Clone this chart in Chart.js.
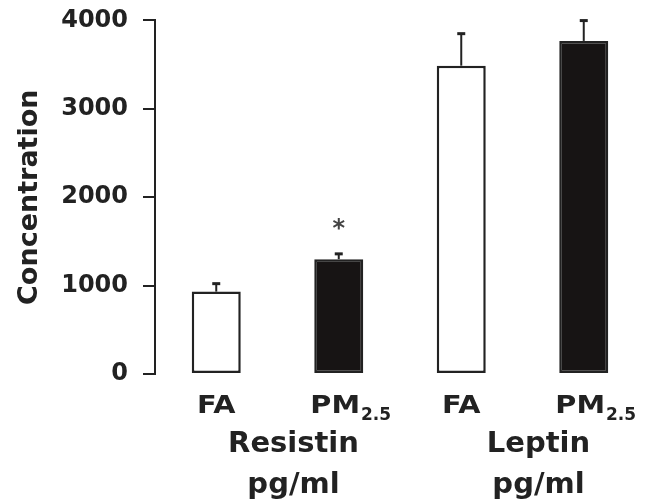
<!DOCTYPE html>
<html>
<head>
<meta charset="utf-8">
<script src="https://cdn.jsdelivr.net/npm/chart.js@4.4.0/dist/chart.umd.min.js"></script>
<style>
html,body{margin:0;padding:0;background:#fff;}
</style>
</head>
<body>
<canvas id="myChart" width="658" height="504"></canvas>
<script>
var labels=['FA','PM2.5','FA','PM2.5']
var groups=['Resistin','Leptin']
var units=['pg/ml','pg/ml']
var means=[932,1299,3488,3768]
var errors=[90,60,362,230]
var stars=['','*','','']
var fills=['#ffffff','#171414','#ffffff','#171414']

var ink='#222'
var fontFamily='"DejaVu Sans", Arial, sans-serif'

// text drawn a little wider than the font, like the picture
function wideText(ctx,text,x,y,sx){
    ctx.save()
    ctx.translate(x,y)
    ctx.scale(sx,1)
    ctx.fillText(text,0,0)
    ctx.restore()
}

var extras={
    id:'extras',
    afterDatasetsDraw:function(chart){
        var ctx=chart.ctx
        var y=chart.scales.y
        var meta=chart.getDatasetMeta(0)
        ctx.save()
        ctx.strokeStyle=ink
        meta.data.forEach(function(bar,i){
            var x=bar.x
            var y0=y.getPixelForValue(means[i])
            var y1=y.getPixelForValue(means[i]+errors[i])
            ctx.lineWidth=2
            ctx.beginPath()
            ctx.moveTo(x,y0)
            ctx.lineTo(x,y1)
            ctx.stroke()
            ctx.lineWidth=3
            ctx.beginPath()
            ctx.moveTo(x-4,y1)
            ctx.lineTo(x+4,y1)
            ctx.stroke()
            if(stars[i]){
                ctx.fillStyle='#444'
                ctx.font='bold 24px '+fontFamily
                ctx.textAlign='center'
                ctx.textBaseline='middle'
                ctx.fillText(stars[i],x,y1-24)
            }
        })
        ctx.restore()
    },
    afterDraw:function(chart){
        var ctx=chart.ctx
        var xs=chart.scales.x
        var bottom=chart.chartArea.bottom
        var sx=1.15
        ctx.save()
        ctx.fillStyle=ink
        ctx.textBaseline='alphabetic'
        ctx.textAlign='left'
        labels.forEach(function(lab,i){
            var x=xs.getPixelForTick(i)
            var m=lab.match(/^(\D+)([\d.]+)$/)
            var main=m?m[1]:lab
            var sub=m?m[2]:''
            ctx.font='bold 25px '+fontFamily
            var w1=ctx.measureText(main).width*sx
            ctx.font='bold 17px '+fontFamily
            var w2=sub?ctx.measureText(sub).width+1:0
            var left=x-(w1+w2)/2+(sub?12:0)
            ctx.font='bold 25px '+fontFamily
            wideText(ctx,main,left,bottom+39,sx)
            if(sub){
                ctx.font='bold 17px '+fontFamily
                ctx.fillText(sub,left+w1+1,bottom+46)
            }
        })
        ctx.textAlign='center'
        ctx.font='bold 29px '+fontFamily
        groups.forEach(function(g,k){
            var mid=(xs.getPixelForTick(2*k)+xs.getPixelForTick(2*k+1))/2
            ctx.fillText(g,mid+16,bottom+78)
            ctx.fillText(units[k],mid+16,bottom+119)
        })
        ctx.restore()
    }
}

var ctx=document.getElementById('myChart')
var myChart=new Chart(ctx,{
    type:'bar',
    data:{
        labels:labels,
        datasets:[{
            data:means,
            backgroundColor:fills,
            borderColor:ink,
            borderWidth:2.5,
            borderSkipped:false,
            barPercentage:0.4,
            categoryPercentage:1.0
        }]
    },
    options:{
        responsive:false,
        animation:false,
        devicePixelRatio:1,
        layout:{padding:{top:11,right:13,bottom:130,left:0}},
        plugins:{
            legend:{display:false},
            tooltip:{enabled:false}
        },
        scales:{
            x:{
                display:false,
                offset:true
            },
            y:{
                min:0,
                max:4000,
                afterFit:function(scale){scale.width=155},
                border:{display:true,color:ink,width:2},
                grid:{drawOnChartArea:false,drawTicks:true,tickLength:12,tickColor:ink,lineWidth:2},
                ticks:{
                    stepSize:1000,
                    padding:15,
                    color:ink,
                    font:{family:fontFamily,weight:'bold',size:24,lineHeight:0.45},
                    callback:function(v){return String(v)}
                },
                title:{
                    display:true,
                    text:'Concentration',
                    color:ink,
                    padding:{top:14,bottom:0},
                    font:{family:fontFamily,weight:'bold',size:27}
                }
            }
        }
    },
    plugins:[extras]
})
</script>
</body>
</html>
